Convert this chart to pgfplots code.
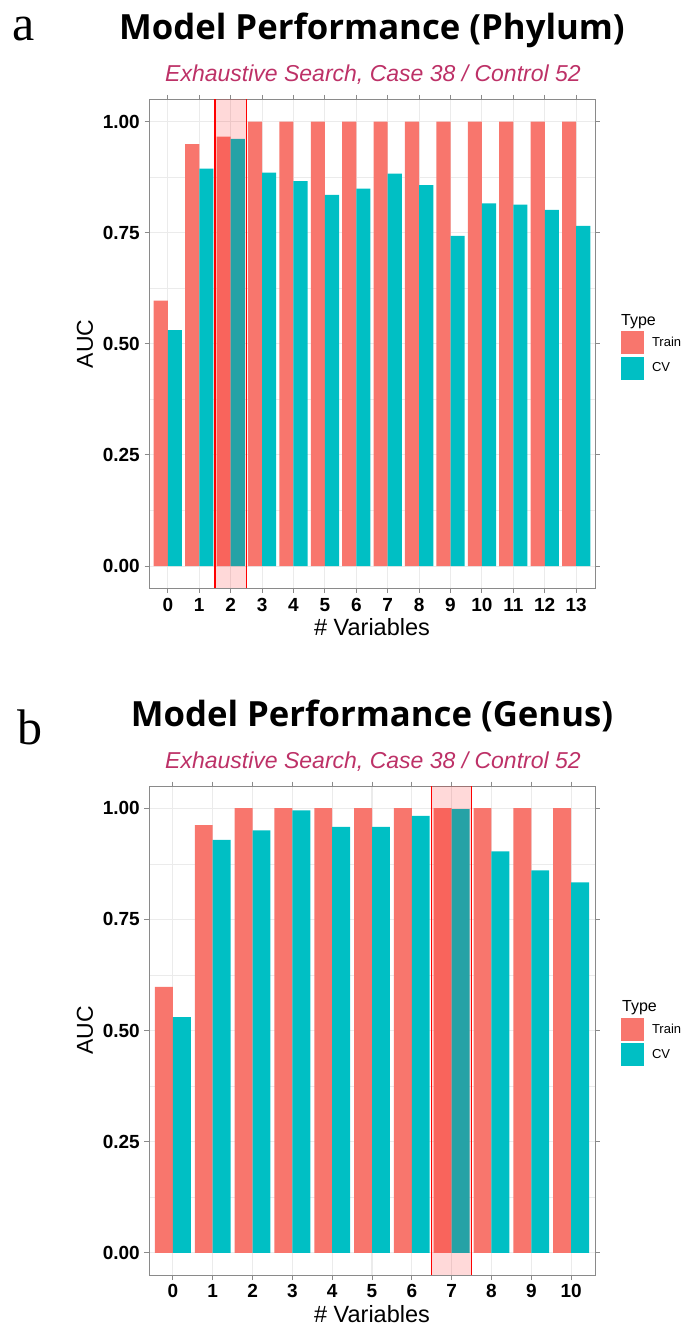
\documentclass[border=0pt]{standalone}
\usepackage{pgfplots}
\usepackage{pgfplotstable}
\pgfplotsset{compat=1.18}
\usepackage{fontspec}
\setmainfont{Liberation Sans}
\newfontfamily\titlefont{Open Sans}
\newfontfamily\letterfont{Liberation Serif}
\definecolor{trainc}{HTML}{F8766D}
\definecolor{cvc}{HTML}{00BFC4}
\definecolor{subc}{RGB}{189,49,103}
\definecolor{gridc}{HTML}{EBEBEB}
\definecolor{framec}{HTML}{8A8A8A}

\pgfplotstableread{
x train cv
0 0.597 0.531
1 0.949 0.894
2 0.966 0.961
3 1.000 0.885
4 1.000 0.866
5 1.000 0.835
6 1.000 0.849
7 1.000 0.883
8 1.000 0.857
9 1.000 0.743
10 1.000 0.816
11 1.000 0.813
12 1.000 0.801
13 1.000 0.765
}\phylum

\pgfplotstableread{
x train cv
0 0.598 0.530
1 0.962 0.929
2 1.000 0.950
3 1.000 0.995
4 1.000 0.958
5 1.000 0.958
6 1.000 0.983
7 1.000 0.998
8 1.000 0.903
9 1.000 0.860
10 1.000 0.833
}\genus

\pgfplotsset{
  sqlegend/.style={legend image code/.code={\fill[##1] (0pt,-11.5pt) rectangle (23pt,11.5pt);}},
  mystyle/.style={
    scale only axis, width=446pt, height=489pt,
    ymin=-0.05, ymax=1.05,
    ytick={0,0.25,0.5,0.75,1},
    minor ytick={0.125,0.375,0.625,0.875},
    ymajorgrids, yminorgrids, xmajorgrids,
    major grid style={gridc, line width=1.1pt},
    minor grid style={gridc, line width=0.6pt},
    axis line style={framec, line width=1pt},
    tick style={framec, line width=1pt},
    tick align=outside, major tick length=4.5pt, minor tick length=0pt,
    xtick=data,
    ybar, bar width=0.45,
    /pgf/number format/assume math mode=true,
    ticklabel style={font=\bfseries\fontsize{19}{19}\selectfont, text=black},
    yticklabel style={/pgf/number format/fixed, /pgf/number format/fixed zerofill, /pgf/number format/precision=2},
    xticklabel style={inner sep=0pt, anchor=north, yshift=-5pt},
    yticklabel style={inner sep=0pt, anchor=east, xshift=-4.5pt},
    xlabel={\# Variables}, ylabel={AUC},
    xlabel style={at={(axis description cs:0.5,0)}, anchor=base, yshift=-47.5pt, font=\fontsize{23.5}{23.5}\selectfont},
    ylabel style={at={(axis description cs:-0.1435,0.5)}, anchor=center, font=\fontsize{23}{23}\selectfont},
    legend style={at={(axis description cs:1.0583,0.526)}, anchor=north west, draw=none, fill=none,
      inner sep=0pt, outer sep=0pt, row sep=2.5pt, font=\fontsize{13}{13}\selectfont,
      cells={anchor=west}, /tikz/every odd column/.append style={column sep=6pt}},
    clip=true,
  }
}

\begin{document}
\begin{tikzpicture}
\useasboundingbox (0pt,0pt) rectangle (683pt,-1325pt);

% ---------- panel a ----------
\node[anchor=base west, font=\letterfont\fontsize{50}{50}\selectfont, inner sep=0pt] at (12pt,-40pt) {a};
\node[anchor=base, font=\titlefont\bfseries\fontsize{34.7}{34.7}\selectfont, inner sep=0pt] at (372pt,-39.6pt) {Model Performance (Phylum)};
\node[anchor=base, font=\itshape\fontsize{23}{23}\selectfont, text=subc, inner sep=0pt] at (373pt,-81.6pt) {Exhaustive Search, Case 38 / Control 52};

\begin{axis}[mystyle, at={(149pt,-588.3pt)}, anchor=south west, xmin=-0.6, xmax=13.6]
\addplot[fill=trainc, draw=none, bar shift=-0.225, sqlegend] table[x=x, y=train] {\phylum};
\addplot[fill=cvc, draw=none, bar shift=0.225, sqlegend] table[x=x, y=cv] {\phylum};
\fill[red, opacity=0.15] (axis cs:1.5,-0.05) rectangle (axis cs:2.5,1.05);
\draw[red, line width=1.5pt] (axis cs:1.5,-0.05) -- (axis cs:1.5,1.05);
\draw[red, line width=1.5pt] (axis cs:2.5,-0.05) -- (axis cs:2.5,1.05);
\legend{Train, CV}
\end{axis}
\node[anchor=base west, font=\fontsize{16}{16}\selectfont, inner sep=0pt] at (621pt,-325pt) {Type};

% ---------- panel b ----------
\node[anchor=base west, font=\letterfont\fontsize{50}{50}\selectfont, inner sep=0pt] at (17pt,-744pt) {b};
\node[anchor=base, font=\titlefont\bfseries\fontsize{34.7}{34.7}\selectfont, inner sep=0pt] at (372pt,-726pt) {Model Performance (Genus)};
\node[anchor=base, font=\itshape\fontsize{23}{23}\selectfont, text=subc, inner sep=0pt] at (373pt,-768pt) {Exhaustive Search, Case 38 / Control 52};

\begin{axis}[mystyle, at={(149pt,-1275pt)}, anchor=south west, xmin=-0.6, xmax=10.6]
\addplot[fill=trainc, draw=none, bar shift=-0.225, sqlegend] table[x=x, y=train] {\genus};
\addplot[fill=cvc, draw=none, bar shift=0.225, sqlegend] table[x=x, y=cv] {\genus};
\fill[red, opacity=0.15] (axis cs:6.5,-0.05) rectangle (axis cs:7.5,1.05);
\draw[red, line width=1.5pt] (axis cs:6.5,-0.05) -- (axis cs:6.5,1.05);
\draw[red, line width=1.5pt] (axis cs:7.5,-0.05) -- (axis cs:7.5,1.05);
\legend{Train, CV}
\end{axis}
\node[anchor=base west, font=\fontsize{16}{16}\selectfont, inner sep=0pt] at (622pt,-1011pt) {Type};
\end{tikzpicture}
\end{document}
